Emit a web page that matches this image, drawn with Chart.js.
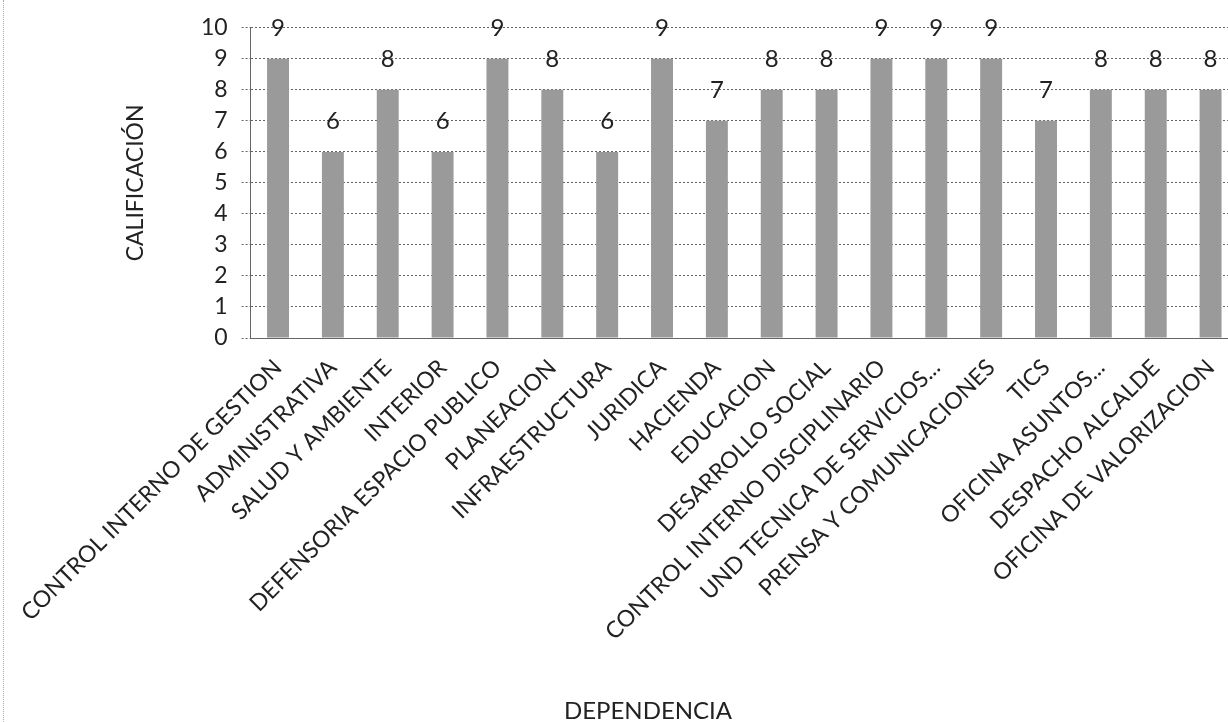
<!DOCTYPE html>
<html>
<head>
<meta charset="utf-8">
<script src="https://cdn.jsdelivr.net/npm/chart.js@4.4.0/dist/chart.umd.min.js"></script>
<style>
  html, body { margin: 0; padding: 0; background: #fff; overflow: hidden; }
  #wrap { position: relative; width: 1240px; height: 722px; }
  #edge { position: absolute; left: 3px; top: 0; width: 0; height: 722px; border-left: 1px dotted #aaa; }
</style>
</head>
<body>
<div id="wrap">
  <div id="edge"></div>
  <canvas id="chart"></canvas>
</div>
<script>
// dependencias y calificacion
const dependencias = [
  "CONTROL INTERNO DE GESTION", "ADMINISTRATIVA", "SALUD Y AMBIENTE", "INTERIOR",
  "DEFENSORIA ESPACIO PUBLICO", "PLANEACION", "INFRAESTRUCTURA", "JURIDICA",
  "HACIENDA", "EDUCACION", "DESARROLLO SOCIAL", "CONTROL INTERNO DISCIPLINARIO",
  "UND TECNICA DE SERVICIOS...", "PRENSA Y COMUNICACIONES", "TICS", "OFICINA ASUNTOS...",
  "DESPACHO ALCALDE", "OFICINA DE VALORIZACION"
];
const calificacion = [9, 6, 8, 6, 9, 8, 6, 9, 7, 8, 8, 9, 9, 9, 7, 8, 8, 8];
const yTicks = [0, 1, 2, 3, 4, 5, 6, 7, 8, 9, 10];

const fontName = "Lato, 'Open Sans', sans-serif";
const textColor = "#222";

// numbers above the bars
const valueLabels = {
  id: "valueLabels",
  afterDatasetsDraw(chart) {
    const ctx = chart.ctx;
    const meta = chart.getDatasetMeta(0);
    ctx.save();
    ctx.font = "24px " + fontName;
    ctx.fillStyle = textColor;
    ctx.textAlign = "center";
    ctx.textBaseline = "middle";
    meta.data.forEach((bar, i) => {
      ctx.fillText(calificacion[i], bar.x, bar.y - 31);
    });
    ctx.restore();
  }
};

// x axis title sits left of centre in the original
const xTitle = {
  id: "xTitle",
  afterDraw(chart) {
    const ctx = chart.ctx;
    ctx.save();
    ctx.font = "24px " + fontName;
    ctx.fillStyle = textColor;
    ctx.textAlign = "center";
    ctx.textBaseline = "middle";
    ctx.fillText("DEPENDENCIA", 648, 711);
    ctx.restore();
  }
};

const ctx = document.getElementById("chart").getContext("2d");
new Chart(ctx, {
  type: "bar",
  data: {
    labels: dependencias,
    datasets: [{
      label: "Calificación",
      data: calificacion,
      backgroundColor: "#9a9a9a",
      categoryPercentage: 1,
      barPercentage: 0.4
    }]
  },
  options: {
    responsive: true,
    maintainAspectRatio: false,
    animation: false,
    layout: { padding: { left: 118, top: 26, right: 2, bottom: 0 } },
    plugins: {
      legend: { display: false },
      tooltip: { enabled: false }
    },
    scales: {
      x: {
        grid: { display: false },
        border: { display: true, color: "#666", dash: [2, 2] },
        ticks: {
          autoSkip: false,
          maxRotation: 45,
          minRotation: 45,
          padding: 8,
          color: textColor,
          font: { family: fontName, size: 23 }
        },
        afterFit(scale) { scale.height = 384; }
      },
      y: {
        min: 0,
        max: 10,
        afterBuildTicks(scale) { scale.ticks = yTicks.map(v => ({ value: v })); },
        grid: { color: "#666", tickLength: 9, tickBorderDash: [2, 2], tickColor: "#666" },
        border: { display: true, color: "#666", dash: [2, 2] },
        ticks: {
          autoSkip: false,
          padding: 14,
          color: textColor,
          font: { family: fontName, size: 23 }
        },
        title: {
          display: true,
          text: "CALIFICACIÓN",
          color: textColor,
          padding: 4,
          font: { family: fontName, size: 23 }
        },
        afterFit(scale) { scale.width = 132.6; }
      }
    },
    elements: { bar: { borderWidth: 0 } }
  },
  plugins: [valueLabels, xTitle]
});
</script>
</body>
</html>
